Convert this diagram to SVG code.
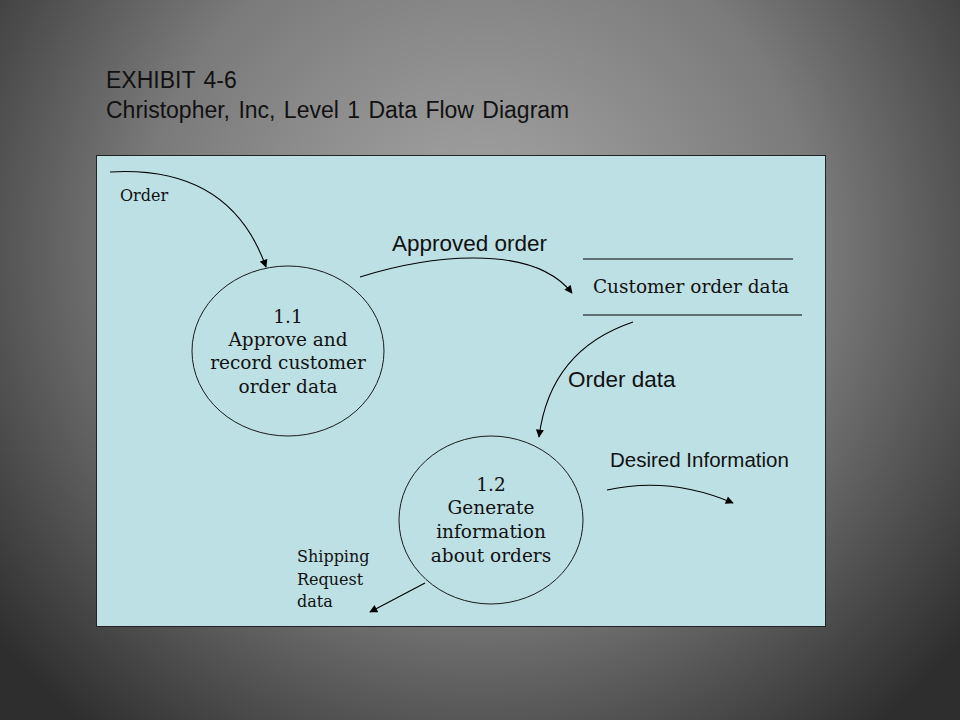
<svg xmlns="http://www.w3.org/2000/svg" width="960" height="720" viewBox="0 0 960 720">
  <defs>
    <radialGradient id="bg" cx="480" cy="250" r="620" gradientUnits="userSpaceOnUse">
      <stop offset="0" stop-color="#a8a8a8"/>
      <stop offset="0.55" stop-color="#7a7a7a"/>
      <stop offset="1" stop-color="#2e2e2e"/>
    </radialGradient>
    <marker id="ah" viewBox="0 0 10 10" refX="9" refY="5" markerWidth="9" markerHeight="8" markerUnits="userSpaceOnUse" orient="auto">
      <path d="M0,0 L10,5 L0,10 z" fill="#000"/>
    </marker>
    <style>
      .title { font-family: "Liberation Sans", Arial, sans-serif; font-size: 23px; fill: #111; word-spacing: 2px; }
      .proc { fill: none; stroke: #1a1a1a; stroke-width: 1; }
      .ptext { font-family: "DejaVu Serif", Georgia, serif; font-size: 18.5px; fill: #111; text-anchor: middle; }
      .small { font-family: "DejaVu Serif", Georgia, serif; font-size: 16px; fill: #111; }
      .flow { font-family: "Liberation Sans", Arial, sans-serif; font-size: 22.5px; fill: #111; }
      .flowsm { font-family: "Liberation Sans", Arial, sans-serif; font-size: 20.5px; fill: #111; }
      .conn { fill: none; stroke: #000; stroke-width: 1.1; marker-end: url(#ah); }
      .store { stroke: #000; stroke-width: 1.2; }
    </style>
  </defs>
  <rect x="0" y="0" width="960" height="720" fill="url(#bg)"/>
  <text class="title" x="106" y="88">EXHIBIT 4-6</text>
  <text class="title" x="106" y="118">Christopher, Inc, Level 1 Data Flow Diagram</text>
  <rect x="96.5" y="155.5" width="729" height="471" fill="#bde0e4" stroke="#222" stroke-width="1"/>

  <g id="connectors">
    <path class="conn" d="M110,172 Q230,165 266,267"/>
    <path class="conn" d="M360,277 C420,258 530,240 572,293"/>
    <path class="conn" d="M633,322 Q550,350 539,437"/>
    <path class="conn" d="M607,490 Q670,476 733,503"/>
    <path class="conn" d="M425,583 L370,612"/>
    <text class="small" x="120" y="201">Order</text>
    <text class="flow" x="392" y="251">Approved order</text>
    <text class="flow" x="568" y="387">Order data</text>
    <text class="flowsm" x="610" y="467">Desired Information</text>
    <text class="small" x="297" y="562">Shipping</text>
    <text class="small" x="297" y="585">Request</text>
    <text class="small" x="297" y="607">data</text>
  </g>

  <g id="p11">
    <ellipse class="proc" cx="288" cy="351" rx="96" ry="85"/>
    <text class="ptext" x="288" y="323">1.1</text>
    <text class="ptext" x="288" y="346">Approve and</text>
    <text class="ptext" x="288" y="369">record customer</text>
    <text class="ptext" x="288" y="393">order data</text>
  </g>

  <g id="p12">
    <ellipse class="proc" cx="491" cy="520" rx="92" ry="84"/>
    <text class="ptext" x="491" y="491">1.2</text>
    <text class="ptext" x="491" y="514">Generate</text>
    <text class="ptext" x="491" y="538">information</text>
    <text class="ptext" x="491" y="562">about orders</text>
  </g>

  <g id="store">
    <line class="store" x1="583" y1="259" x2="793" y2="259"/>
    <line class="store" x1="583" y1="315" x2="802" y2="315"/>
    <text class="ptext" x="691" y="293">Customer order data</text>
  </g>
</svg>
